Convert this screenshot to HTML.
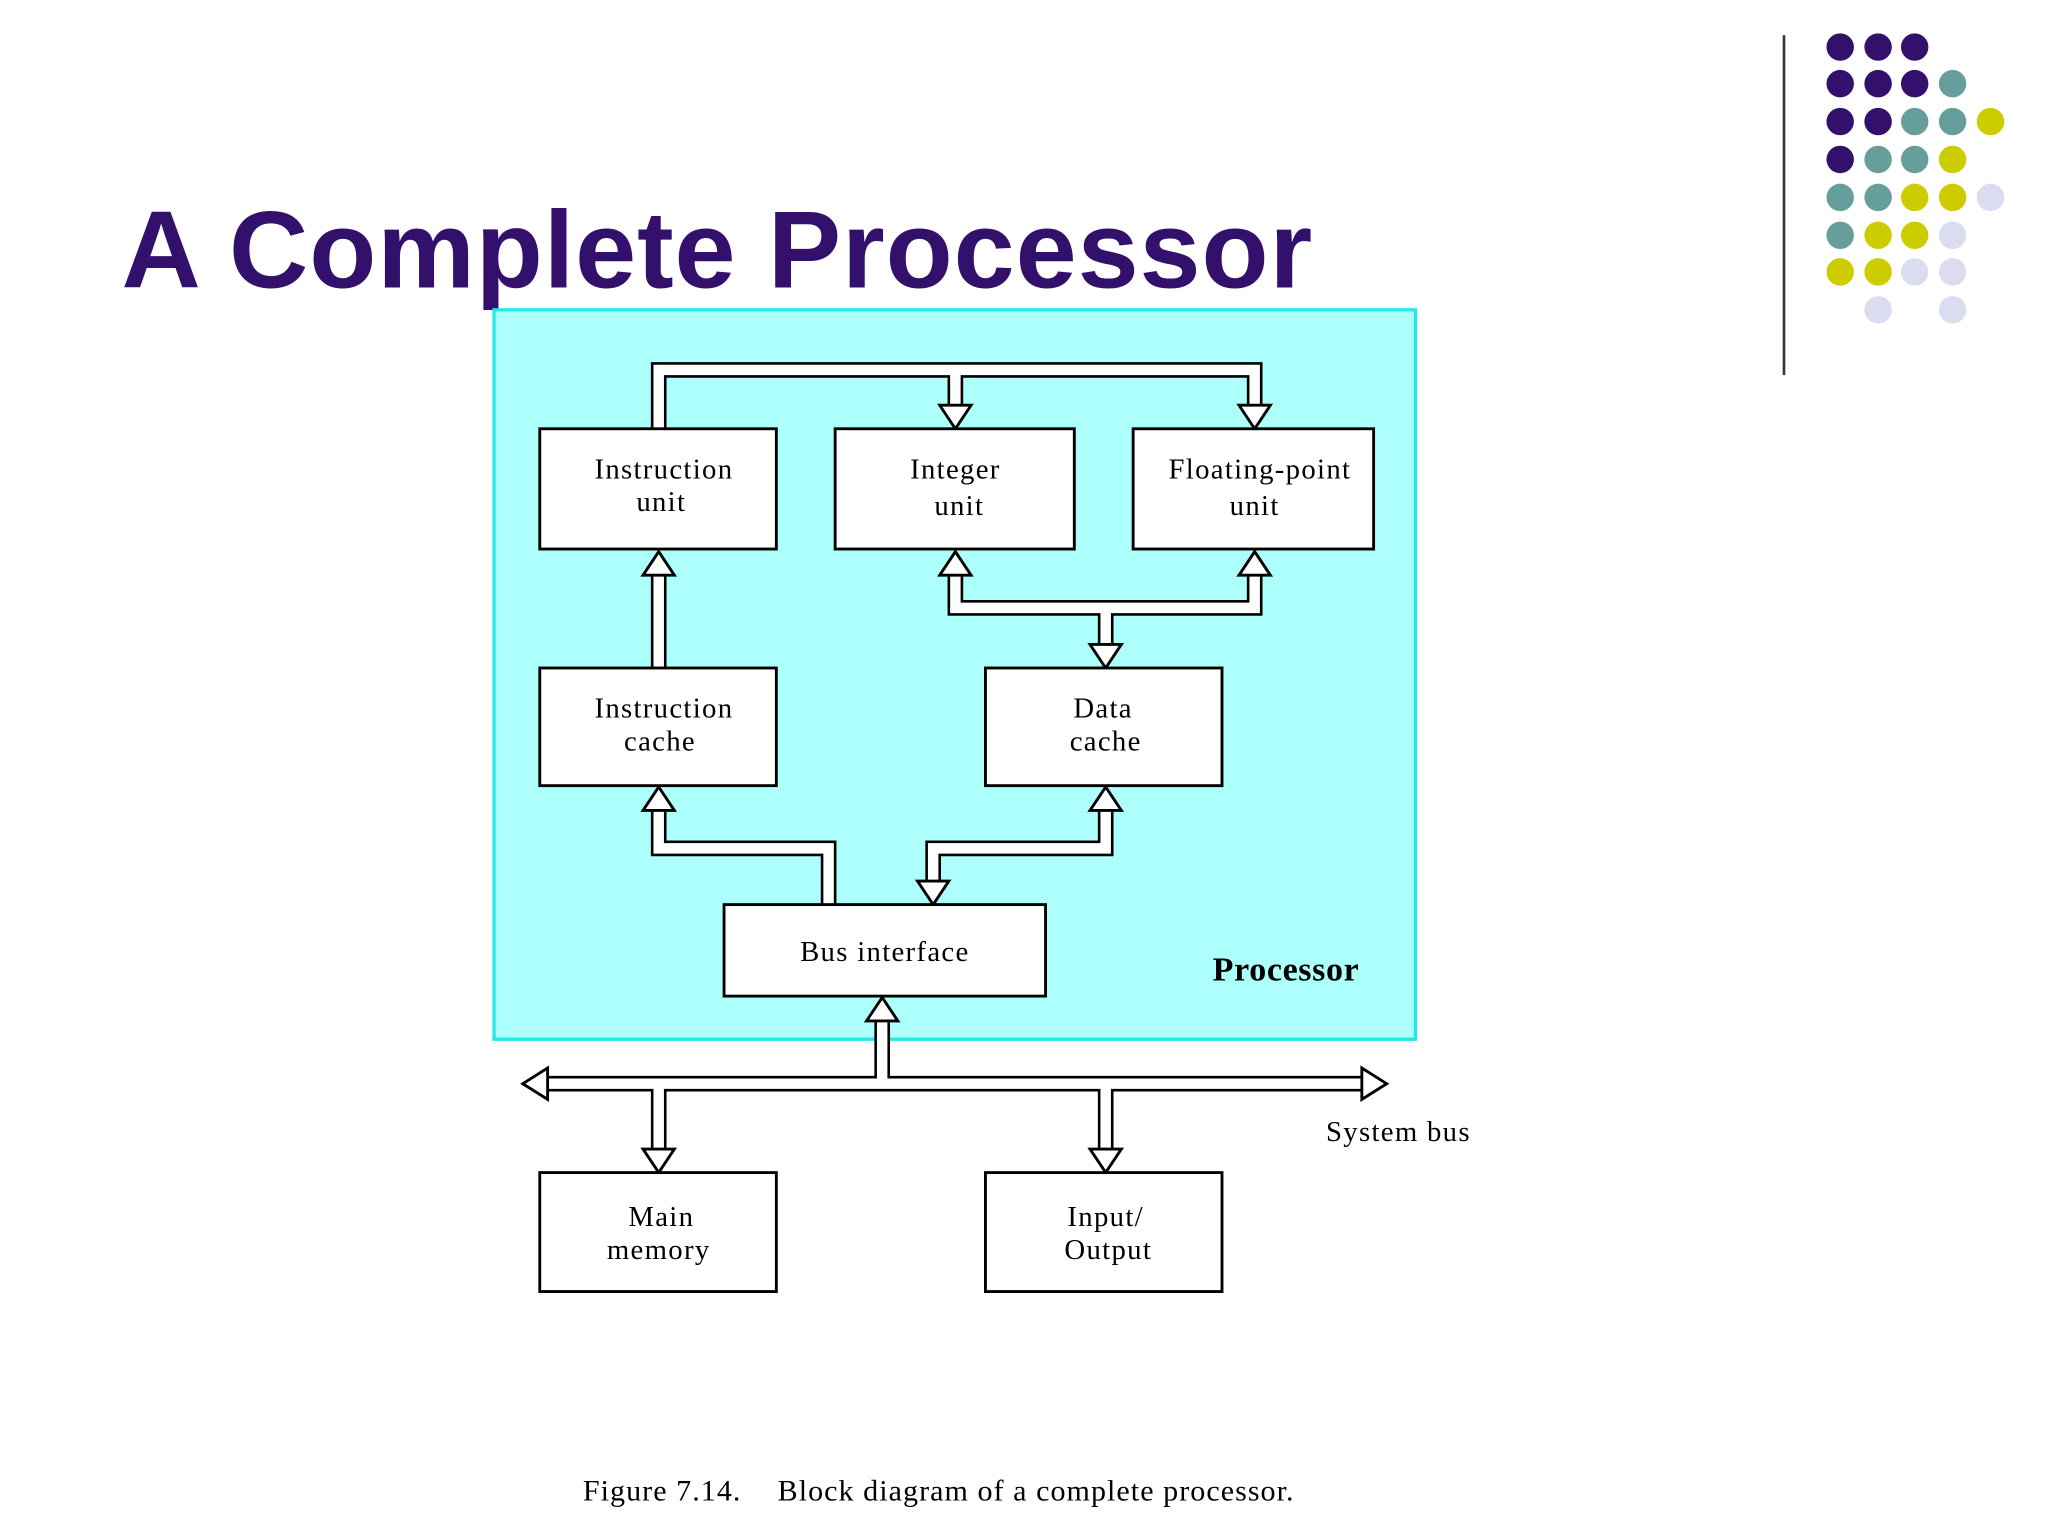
<!DOCTYPE html>
<html><head><meta charset="utf-8"><style>
html,body{margin:0;padding:0;background:#fff;width:2048px;height:1536px;overflow:hidden}
svg{display:block}
</style></head><body>
<svg width="2048" height="1536" viewBox="0 0 1567 1175" preserveAspectRatio="none" xmlns="http://www.w3.org/2000/svg">
<text x="93" y="220" font-family="Liberation Sans, sans-serif" font-weight="bold" font-size="84" letter-spacing="0.7" fill="#33106b">A Complete Processor</text>
<line x1="1365" y1="27" x2="1365" y2="287" stroke="#333" stroke-width="2"/>
<g>
<circle cx="1408" cy="36" r="10.5" fill="#33106b"/><circle cx="1437" cy="36" r="10.5" fill="#33106b"/><circle cx="1465" cy="36" r="10.5" fill="#33106b"/>
<circle cx="1408" cy="64" r="10.5" fill="#33106b"/><circle cx="1437" cy="64" r="10.5" fill="#33106b"/><circle cx="1465" cy="64" r="10.5" fill="#33106b"/><circle cx="1494" cy="64" r="10.5" fill="#669e9c"/>
<circle cx="1408" cy="93" r="10.5" fill="#33106b"/><circle cx="1437" cy="93" r="10.5" fill="#33106b"/><circle cx="1465" cy="93" r="10.5" fill="#669e9c"/><circle cx="1494" cy="93" r="10.5" fill="#669e9c"/><circle cx="1523" cy="93" r="10.5" fill="#cccc00"/>
<circle cx="1408" cy="122" r="10.5" fill="#33106b"/><circle cx="1437" cy="122" r="10.5" fill="#669e9c"/><circle cx="1465" cy="122" r="10.5" fill="#669e9c"/><circle cx="1494" cy="122" r="10.5" fill="#cccc00"/>
<circle cx="1408" cy="151" r="10.5" fill="#669e9c"/><circle cx="1437" cy="151" r="10.5" fill="#669e9c"/><circle cx="1465" cy="151" r="10.5" fill="#cccc00"/><circle cx="1494" cy="151" r="10.5" fill="#cccc00"/><circle cx="1523" cy="151" r="10.5" fill="#dcdcf0"/>
<circle cx="1408" cy="180" r="10.5" fill="#669e9c"/><circle cx="1437" cy="180" r="10.5" fill="#cccc00"/><circle cx="1465" cy="180" r="10.5" fill="#cccc00"/><circle cx="1494" cy="180" r="10.5" fill="#dcdcf0"/>
<circle cx="1408" cy="208" r="10.5" fill="#cccc00"/><circle cx="1437" cy="208" r="10.5" fill="#cccc00"/><circle cx="1465" cy="208" r="10.5" fill="#dcdcf0"/><circle cx="1494" cy="208" r="10.5" fill="#dcdcf0"/>
<circle cx="1437" cy="237" r="10.5" fill="#dcdcf0"/><circle cx="1494" cy="237" r="10.5" fill="#dcdcf0"/>
</g>
<rect x="378" y="237" width="705" height="558" fill="#adfffb" stroke="#22e8e8" stroke-width="2.5"/>
<g fill="none" stroke-linejoin="miter" stroke-linecap="butt">
<g stroke="#000" stroke-width="12">
<path d="M504 330 V283 H960 V312 M731 283 V312"/>
<path d="M504 512 V440"/>
<path d="M731 440 V465 H960 V440 M846 465 V494"/>
<path d="M504 620 V649 H634 V693"/>
<path d="M846 620 V649 H714 V675"/>
<path d="M675 782 V829"/>
<path d="M419 829 H1042 M504 829 V880 M846 829 V880"/>
</g>
<g stroke="#fff" stroke-width="8">
<path d="M504 332 V283 H960 V314 M731 283 V314"/>
<path d="M504 514 V438"/>
<path d="M731 438 V465 H960 V438 M846 465 V496"/>
<path d="M504 618 V649 H634 V695"/>
<path d="M846 618 V649 H714 V677"/>
<path d="M675 780 V829"/>
<path d="M417 829 H1044 M504 829 V882 M846 829 V882"/>
</g>
</g>
<g fill="#fff" stroke="#000" stroke-width="2.2" stroke-linejoin="miter">
<polygon points="719,310 743,310 731,328"/>
<polygon points="948,310 972,310 960,328"/>
<polygon points="492,440 516,440 504,422"/>
<polygon points="719,440 743,440 731,422"/>
<polygon points="948,440 972,440 960,422"/>
<polygon points="834,493 858,493 846,511"/>
<polygon points="492,620 516,620 504,602"/>
<polygon points="834,620 858,620 846,602"/>
<polygon points="702,674 726,674 714,692"/>
<polygon points="663,781 687,781 675,763"/>
<polygon points="419,817 419,841 400,829"/>
<polygon points="1042,817 1042,841 1061,829"/>
<polygon points="492,879 516,879 504,897"/>
<polygon points="834,879 858,879 846,897"/>
</g>
<g fill="#fff" stroke="#000" stroke-width="2.2">
<rect x="413" y="328" width="181" height="92"/>
<rect x="639" y="328" width="183" height="92"/>
<rect x="867" y="328" width="184" height="92"/>
<rect x="413" y="511" width="181" height="90"/>
<rect x="754" y="511" width="181" height="90"/>
<rect x="554" y="692" width="246" height="70"/>
<rect x="413" y="897" width="181" height="91"/>
<rect x="754" y="897" width="181" height="91"/>
</g>
<g font-family="Liberation Serif, serif" font-size="22" letter-spacing="1" fill="#000" text-anchor="middle">
<text x="508" y="366">Instruction</text><text x="506" y="391">unit</text>
<text x="731" y="366">Integer</text><text x="734" y="394">unit</text>
<text x="964" y="366">Floating-point</text><text x="960" y="394">unit</text>
<text x="508" y="549">Instruction</text><text x="505" y="574">cache</text>
<text x="844" y="549">Data</text><text x="846" y="574">cache</text>
<text x="677" y="735">Bus interface</text>
<text x="506" y="938">Main</text><text x="504" y="963">memory</text>
<text x="846" y="938">Input/</text><text x="848" y="963">Output</text>
<text x="1070" y="873">System bus</text>
<text x="984" y="750" font-weight="bold" font-size="26" letter-spacing="0.5">Processor</text>
</g>
<text x="446" y="1148" font-family="Liberation Serif, serif" font-size="23" letter-spacing="0.8" fill="#000">Figure 7.14.<tspan x="595">Block diagram of a complete processor.</tspan></text>
</svg>
</body></html>
